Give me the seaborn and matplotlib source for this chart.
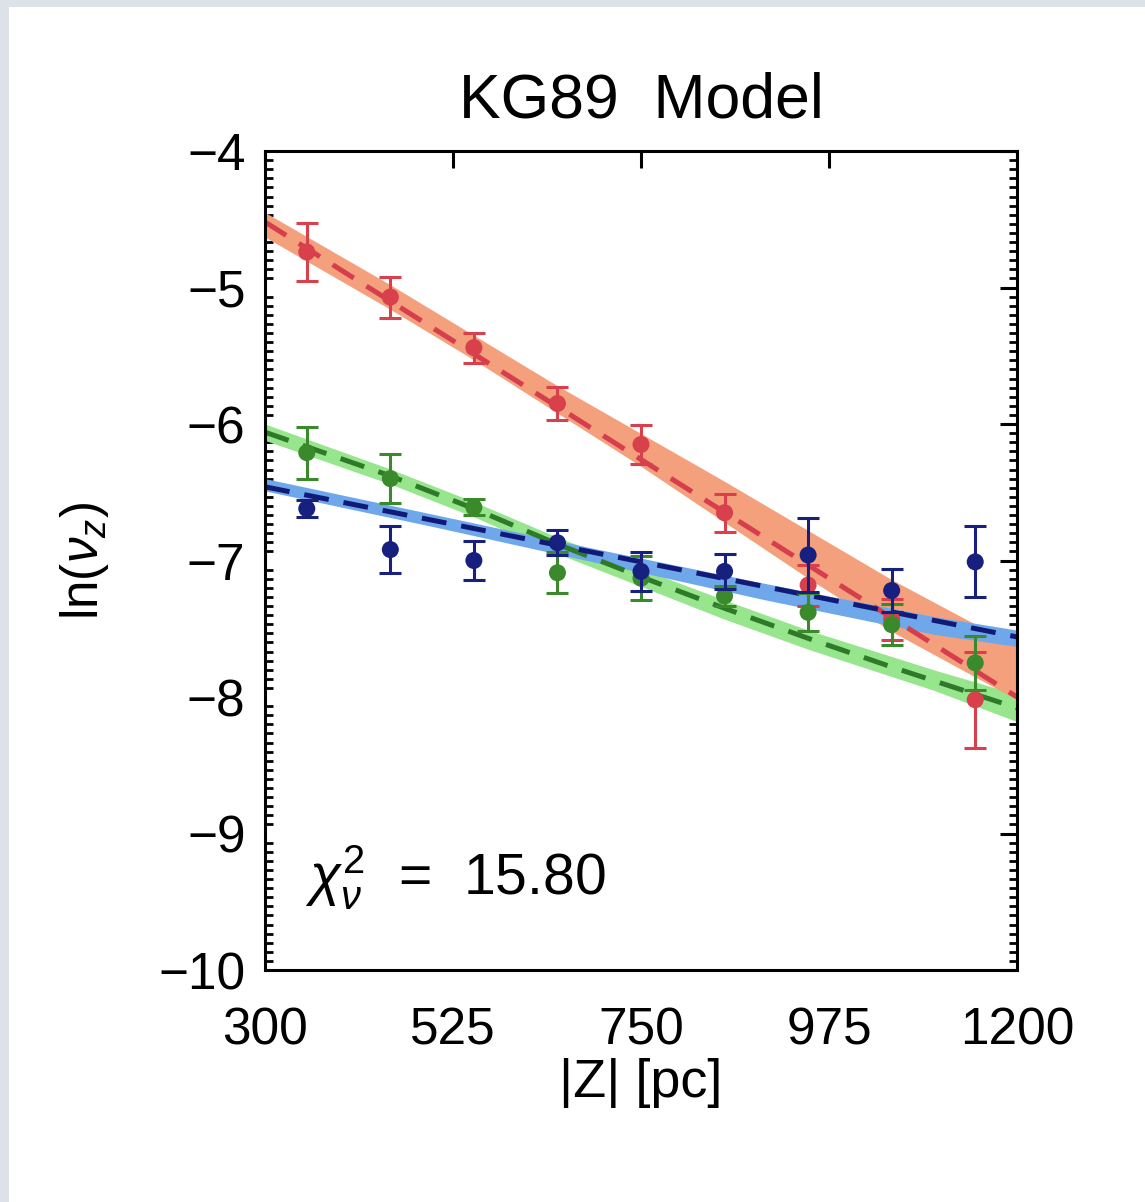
import matplotlib
matplotlib.use("Agg")
import matplotlib.pyplot as plt
from matplotlib.patches import Rectangle
from matplotlib.ticker import MultipleLocator, FixedLocator
import seaborn as sns
import pandas as pd
import numpy as np

# ---- data ----
z_pts = [350, 450, 550, 650, 750, 850, 950, 1050, 1150]

red_val = [-4.74, -5.07, -5.44, -5.85, -6.15, -6.65, -7.18, -7.43, -8.02]
red_err = [0.21, 0.15, 0.11, 0.12, 0.14, 0.14, 0.15, 0.15, 0.35]

green_val = [-6.21, -6.40, -6.61, -7.09, -7.13, -7.26, -7.38, -7.47, -7.75]
green_err = [0.19, 0.18, 0.06, 0.15, 0.16, 0.07, 0.14, 0.15, 0.20]

blue_val = [-6.62, -6.92, -7.00, -6.87, -7.08, -7.08, -6.96, -7.22, -7.01]
blue_err = [0.06, 0.17, 0.14, 0.09, 0.14, 0.13, 0.27, 0.16, 0.26]

# best-fit model (dashed) lines
red_fit_z = [300, 1200]
red_fit = [-4.52, -8.00]
green_fit_z = [300, 450, 550, 650, 750, 850, 950, 1050, 1200]
green_fit = [-6.06, -6.38, -6.62, -6.88, -7.12, -7.35, -7.57, -7.78, -8.08]
blue_fit_z = [300, 1200]
blue_fit = [-6.46, -7.56]

# model ensembles (shaded bands)
red_band_z = [300, 450, 550, 650, 750, 850, 950, 1050, 1200]
red_band_hi = [-4.45, -4.98, -5.35, -5.72, -6.07, -6.42, -6.78, -7.14, -7.63]
red_band_lo = [-4.63, -5.16, -5.53, -5.92, -6.31, -6.72, -7.13, -7.52, -8.02]

green_band_z = [300, 450, 550, 650, 750, 850, 950, 1100, 1200]
green_band_hi = [-6.00, -6.33, -6.57, -6.83, -7.06, -7.29, -7.51, -7.80, -7.98]
green_band_lo = [-6.12, -6.44, -6.68, -6.95, -7.19, -7.43, -7.65, -7.95, -8.18]

blue_band_z = [300, 500, 700, 900, 1100, 1200]
blue_band_hi = [-6.40, -6.66, -6.92, -7.17, -7.41, -7.51]
blue_band_lo = [-6.49, -6.75, -7.02, -7.29, -7.54, -7.63]

x_ticks = [300, 525, 750, 975, 1200]
y_ticks = [-10, -9, -8, -7, -6, -5, -4]

title = "KG89  Model"
chi_text = r"$\chi^2_\nu$  =  15.80"

# ---- colours ----
c_red, c_green, c_blue = "#d8404c", "#3a8a2c", "#17207f"
c_red_d, c_green_d, c_blue_d = "#d63e4e", "#2e7a28", "#121a78"
b_red, b_green, b_blue = "#f4a07c", "#97e58d", "#6ea8ea"

sns.set_theme(style="white")
plt.rcParams['font.family'] = ['Liberation Sans', 'DejaVu Sans']
plt.rcParams['mathtext.fontset'] = 'custom'
plt.rcParams['mathtext.rm'] = 'Liberation Sans'
plt.rcParams['mathtext.it'] = 'Liberation Sans:italic'
plt.rcParams['text.color'] = 'black'
plt.rcParams['axes.labelcolor'] = 'black'

fig = plt.figure(figsize=(11.45, 12.02), dpi=100)
fig.patch.set_facecolor("#dde2e8")
fig.patches.append(Rectangle((9 / 1145, 0), 1, 1 - 7 / 1202, transform=fig.transFigure,
                             facecolor="white", edgecolor="none", zorder=-10))

ax = fig.add_axes([265 / 1145, 1 - 970 / 1202, (1017 - 265) / 1145, (970 - 151) / 1202])
ax.set_facecolor("white")

# bands
ax.fill_between(green_band_z, green_band_lo, green_band_hi, color=b_green, lw=0, zorder=1)
ax.fill_between(red_band_z, red_band_lo, red_band_hi, color=b_red, lw=0, zorder=1.1)
ax.fill_between(blue_band_z, blue_band_lo, blue_band_hi, color=b_blue, lw=0, zorder=1.2)

# dashed best-fit lines
dash = (5.0, 3.0)
for zz, yy, col in [(red_fit_z, red_fit, c_red_d), (green_fit_z, green_fit, c_green_d),
                    (blue_fit_z, blue_fit, c_blue_d)]:
    df = pd.DataFrame({"z": zz, "y": yy})
    sns.lineplot(data=df, x="z", y="y", ax=ax, color=col, lw=3.6, zorder=2,
                 linestyle=(0, dash), sort=False)

# data points with error bars
for vals, errs, col, zo in [(red_val, red_err, c_red, 3), (green_val, green_err, c_green, 3.1),
                            (blue_val, blue_err, c_blue, 3.2)]:
    ax.errorbar(z_pts, vals, yerr=errs, fmt="none", ecolor=col, elinewidth=2.2,
                capsize=8, capthick=2.2, zorder=zo)
    df = pd.DataFrame({"z": z_pts, "y": vals})
    sns.scatterplot(data=df, x="z", y="y", ax=ax, color=col, s=150, edgecolor="none",
                    zorder=zo + 0.05)

ax.set_xlim(300, 1200)
ax.set_ylim(-10, -4)
ax.xaxis.set_major_locator(FixedLocator(x_ticks))
ax.yaxis.set_major_locator(FixedLocator(y_ticks))
ax.yaxis.set_minor_locator(MultipleLocator(1 / 15))
ax.set_xticklabels([str(t) for t in x_ticks])
ax.set_yticklabels(["\u2212" + str(-t) for t in y_ticks])

ax.tick_params(axis="both", which="major", direction="in", length=12, width=2.2,
               top=True, right=True, labelsize=37, colors="black")
ax.tick_params(axis="y", which="minor", direction="in", length=6, width=2.0,
               left=True, right=True, colors="black")
ax.tick_params(axis="x", which="major", pad=26)
ax.tick_params(axis="y", which="major", pad=14)
for sp in ax.spines.values():
    sp.set_linewidth(2.2)
    sp.set_color("black")

ax.set_xlabel("|Z| [pc]", fontsize=39, labelpad=2, color="black")
ax.set_ylabel(r"ln($\nu_z$)", fontsize=37, labelpad=34, color="black")
ax.set_title(title, fontsize=45, pad=24, color="black")

ax.text(348, -9.32, chi_text, fontsize=41, ha="left", va="center", color="black")

fig.savefig("out.png", dpi=100, facecolor=fig.get_facecolor())
